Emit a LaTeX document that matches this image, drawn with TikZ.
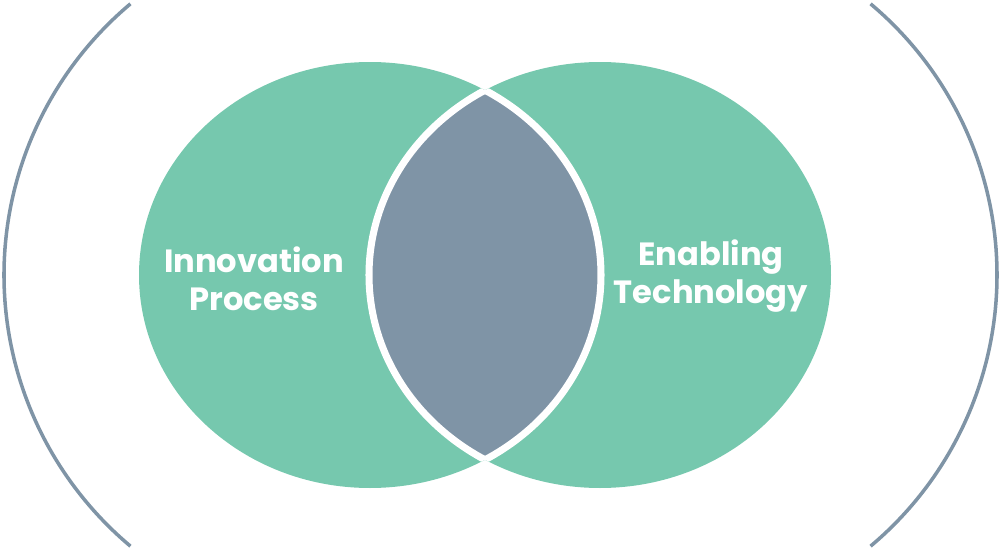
\documentclass[tikz,border=0pt]{standalone}
\usepackage{fontspec}
\setmainfont{Poppins}
\definecolor{setgreen}{HTML}{76C8AE}
\definecolor{slategray}{HTML}{7F94A6}

\begin{document}
\begin{tikzpicture}[
  x=0.02cm, y=-0.02cm,
  set_fill/.style={fill=setgreen},
  lens_fill/.style={fill=slategray},
  lens_edge/.style={draw=white, line width=4pt},
  bracket_line/.style={draw=slategray, line width=2pt},
  set_label/.style={text=white, align=center, inner sep=0pt, font=\bfseries\fontsize{18.3}{21.5}\selectfont},
]
\useasboundingbox (0,0) rectangle (1002,548);
\fill[set_fill] (370,275) ellipse [x radius=231, y radius=213];
\fill[set_fill] (600,275) ellipse [x radius=231, y radius=213];
\begin{scope}
  \clip (370,275) ellipse [x radius=231, y radius=213];
  \fill[lens_fill] (600,275) ellipse [x radius=231, y radius=213];
  \draw[lens_edge] (600,275) ellipse [x radius=231, y radius=213];
\end{scope}
\begin{scope}
  \clip (600,275) ellipse [x radius=231, y radius=213];
  \draw[lens_edge] (370,275) ellipse [x radius=231, y radius=213];
\end{scope}
\draw[bracket_line] (358,275) ++(130:354) arc [start angle=130, end angle=230, radius=354];
\draw[bracket_line] (643,275) ++(50:354) arc [start angle=50, end angle=-50, radius=354];
\draw (254,279) node (innovation) [set_label] {Innovation\\Process};
\draw (711,276) node (enabling) [set_label] {Enabling\\Technology};
\end{tikzpicture}
\end{document}
